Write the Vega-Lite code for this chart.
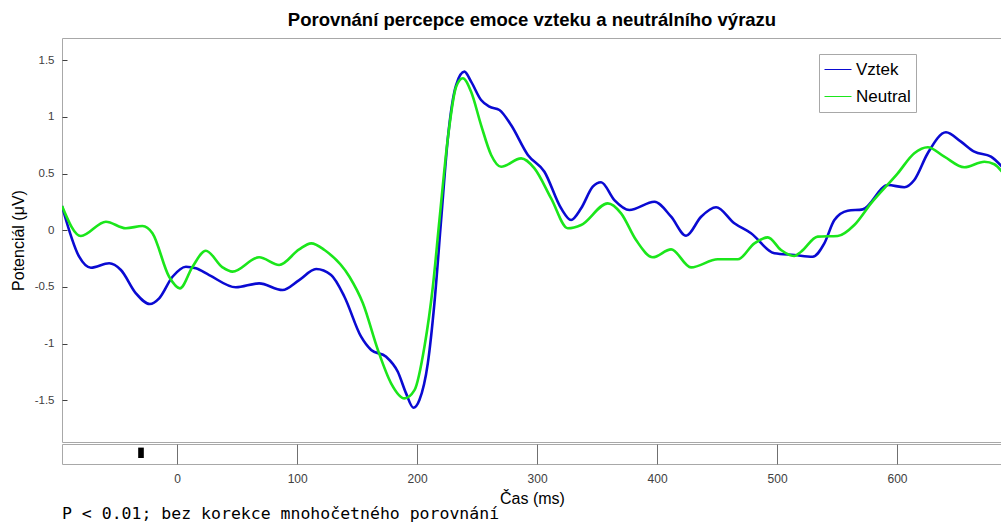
{
  "$schema": "https://vega.github.io/schema/vega-lite/v6.json",
  "background": "white",
  "padding": {"left": 9, "top": 10, "right": 0, "bottom": 0},
  "config": {
    "font": "Liberation Sans",
    "view": {"stroke": "#a8a8a8", "strokeWidth": 1},
    "concat": {"spacing": 0}
  },
  "vconcat": [
    {
      "width": 940,
      "height": 404,
      "title": {
        "text": "Porovnání percepce emoce vzteku a neutrálního výrazu",
        "font": "Liberation Sans",
        "fontSize": 18.5,
        "fontWeight": "bold",
        "color": "#000000",
        "anchor": "middle",
        "offset": 9
      },
      "data": {
        "values": [
          {"t": -96, "v": 0.214, "s": "Vztek"},
          {"t": -81.7, "v": -0.233, "s": "Vztek"},
          {"t": -71.9, "v": -0.33, "s": "Vztek"},
          {"t": -56.7, "v": -0.291, "s": "Vztek"},
          {"t": -46.9, "v": -0.35, "s": "Vztek"},
          {"t": -34.4, "v": -0.556, "s": "Vztek"},
          {"t": -22.8, "v": -0.65, "s": "Vztek"},
          {"t": -15, "v": -0.6, "s": "Vztek"},
          {"t": -3.9, "v": -0.41, "s": "Vztek"},
          {"t": 7.3, "v": -0.321, "s": "Vztek"},
          {"t": 15.6, "v": -0.335, "s": "Vztek"},
          {"t": 26.7, "v": -0.395, "s": "Vztek"},
          {"t": 48.9, "v": -0.503, "s": "Vztek"},
          {"t": 68.3, "v": -0.468, "s": "Vztek"},
          {"t": 87.8, "v": -0.527, "s": "Vztek"},
          {"t": 101.7, "v": -0.439, "s": "Vztek"},
          {"t": 115.8, "v": -0.342, "s": "Vztek"},
          {"t": 128.3, "v": -0.395, "s": "Vztek"},
          {"t": 139.4, "v": -0.586, "s": "Vztek"},
          {"t": 153.3, "v": -0.939, "s": "Vztek"},
          {"t": 161.7, "v": -1.056, "s": "Vztek"},
          {"t": 174.2, "v": -1.116, "s": "Vztek"},
          {"t": 183.9, "v": -1.248, "s": "Vztek"},
          {"t": 190.8, "v": -1.439, "s": "Vztek"},
          {"t": 196.9, "v": -1.566, "s": "Vztek"},
          {"t": 201.9, "v": -1.498, "s": "Vztek"},
          {"t": 208.9, "v": -1.174, "s": "Vztek"},
          {"t": 214.4, "v": -0.644, "s": "Vztek"},
          {"t": 220, "v": 0.091, "s": "Vztek"},
          {"t": 225.6, "v": 0.812, "s": "Vztek"},
          {"t": 232.5, "v": 1.282, "s": "Vztek"},
          {"t": 239.4, "v": 1.4, "s": "Vztek"},
          {"t": 245, "v": 1.312, "s": "Vztek"},
          {"t": 253.3, "v": 1.15, "s": "Vztek"},
          {"t": 260.3, "v": 1.091, "s": "Vztek"},
          {"t": 268.6, "v": 1.062, "s": "Vztek"},
          {"t": 278.3, "v": 0.929, "s": "Vztek"},
          {"t": 292.3, "v": 0.665, "s": "Vztek"},
          {"t": 306.1, "v": 0.517, "s": "Vztek"},
          {"t": 320, "v": 0.194, "s": "Vztek"},
          {"t": 328.3, "v": 0.091, "s": "Vztek"},
          {"t": 336.7, "v": 0.194, "s": "Vztek"},
          {"t": 346.4, "v": 0.385, "s": "Vztek"},
          {"t": 353.3, "v": 0.424, "s": "Vztek"},
          {"t": 364.4, "v": 0.267, "s": "Vztek"},
          {"t": 376.9, "v": 0.179, "s": "Vztek"},
          {"t": 397.8, "v": 0.252, "s": "Vztek"},
          {"t": 411.7, "v": 0.12, "s": "Vztek"},
          {"t": 424.2, "v": -0.048, "s": "Vztek"},
          {"t": 436.7, "v": 0.12, "s": "Vztek"},
          {"t": 449.2, "v": 0.203, "s": "Vztek"},
          {"t": 464.4, "v": 0.062, "s": "Vztek"},
          {"t": 478.3, "v": -0.026, "s": "Vztek"},
          {"t": 497.8, "v": -0.203, "s": "Vztek"},
          {"t": 514.4, "v": -0.218, "s": "Vztek"},
          {"t": 529.7, "v": -0.233, "s": "Vztek"},
          {"t": 539.4, "v": -0.115, "s": "Vztek"},
          {"t": 547.8, "v": 0.091, "s": "Vztek"},
          {"t": 558.9, "v": 0.173, "s": "Vztek"},
          {"t": 571.4, "v": 0.185, "s": "Vztek"},
          {"t": 592.3, "v": 0.4, "s": "Vztek"},
          {"t": 606.1, "v": 0.38, "s": "Vztek"},
          {"t": 614.4, "v": 0.444, "s": "Vztek"},
          {"t": 625.6, "v": 0.68, "s": "Vztek"},
          {"t": 640.8, "v": 0.865, "s": "Vztek"},
          {"t": 653.3, "v": 0.782, "s": "Vztek"},
          {"t": 664.4, "v": 0.694, "s": "Vztek"},
          {"t": 678.3, "v": 0.65, "s": "Vztek"},
          {"t": 687.5, "v": 0.561, "s": "Vztek"},
          {"t": -96, "v": 0.214, "s": "Neutral"},
          {"t": -80.3, "v": -0.05, "s": "Neutral"},
          {"t": -59.4, "v": 0.076, "s": "Neutral"},
          {"t": -42.8, "v": 0.018, "s": "Neutral"},
          {"t": -28.9, "v": 0.038, "s": "Neutral"},
          {"t": -20.6, "v": -0.026, "s": "Neutral"},
          {"t": -6.7, "v": -0.41, "s": "Neutral"},
          {"t": 2.3, "v": -0.512, "s": "Neutral"},
          {"t": 12.8, "v": -0.321, "s": "Neutral"},
          {"t": 23.9, "v": -0.18, "s": "Neutral"},
          {"t": 37.8, "v": -0.327, "s": "Neutral"},
          {"t": 46.1, "v": -0.365, "s": "Neutral"},
          {"t": 68.3, "v": -0.238, "s": "Neutral"},
          {"t": 85, "v": -0.306, "s": "Neutral"},
          {"t": 101.7, "v": -0.168, "s": "Neutral"},
          {"t": 111.7, "v": -0.115, "s": "Neutral"},
          {"t": 122.8, "v": -0.174, "s": "Neutral"},
          {"t": 143.6, "v": -0.41, "s": "Neutral"},
          {"t": 154.8, "v": -0.644, "s": "Neutral"},
          {"t": 167.3, "v": -1.056, "s": "Neutral"},
          {"t": 178.3, "v": -1.35, "s": "Neutral"},
          {"t": 189.4, "v": -1.483, "s": "Neutral"},
          {"t": 197.8, "v": -1.41, "s": "Neutral"},
          {"t": 206.1, "v": -1.027, "s": "Neutral"},
          {"t": 213.1, "v": -0.498, "s": "Neutral"},
          {"t": 218.6, "v": 0.091, "s": "Neutral"},
          {"t": 225.6, "v": 0.812, "s": "Neutral"},
          {"t": 232.5, "v": 1.267, "s": "Neutral"},
          {"t": 238.1, "v": 1.342, "s": "Neutral"},
          {"t": 245, "v": 1.223, "s": "Neutral"},
          {"t": 253.3, "v": 0.929, "s": "Neutral"},
          {"t": 261.7, "v": 0.665, "s": "Neutral"},
          {"t": 270, "v": 0.561, "s": "Neutral"},
          {"t": 286.7, "v": 0.635, "s": "Neutral"},
          {"t": 297.8, "v": 0.547, "s": "Neutral"},
          {"t": 311.7, "v": 0.282, "s": "Neutral"},
          {"t": 325.6, "v": 0.018, "s": "Neutral"},
          {"t": 336.7, "v": 0.047, "s": "Neutral"},
          {"t": 358.9, "v": 0.238, "s": "Neutral"},
          {"t": 370, "v": 0.15, "s": "Neutral"},
          {"t": 382.5, "v": -0.086, "s": "Neutral"},
          {"t": 396.4, "v": -0.238, "s": "Neutral"},
          {"t": 411.7, "v": -0.168, "s": "Neutral"},
          {"t": 428.3, "v": -0.327, "s": "Neutral"},
          {"t": 450.6, "v": -0.256, "s": "Neutral"},
          {"t": 467.3, "v": -0.256, "s": "Neutral"},
          {"t": 481.1, "v": -0.115, "s": "Neutral"},
          {"t": 492.3, "v": -0.062, "s": "Neutral"},
          {"t": 503.3, "v": -0.174, "s": "Neutral"},
          {"t": 514.4, "v": -0.227, "s": "Neutral"},
          {"t": 520, "v": -0.189, "s": "Neutral"},
          {"t": 533.9, "v": -0.056, "s": "Neutral"},
          {"t": 550.6, "v": -0.05, "s": "Neutral"},
          {"t": 564.4, "v": 0.047, "s": "Neutral"},
          {"t": 578.3, "v": 0.238, "s": "Neutral"},
          {"t": 600.6, "v": 0.503, "s": "Neutral"},
          {"t": 614.4, "v": 0.68, "s": "Neutral"},
          {"t": 625.6, "v": 0.733, "s": "Neutral"},
          {"t": 639.4, "v": 0.65, "s": "Neutral"},
          {"t": 656.1, "v": 0.556, "s": "Neutral"},
          {"t": 672.8, "v": 0.605, "s": "Neutral"},
          {"t": 681.1, "v": 0.583, "s": "Neutral"},
          {"t": 687.5, "v": 0.517, "s": "Neutral"}
        ]
      },
      "mark": {"type": "line", "interpolate": "monotone", "strokeWidth": 2.6, "clip": true},
      "encoding": {
        "x": {
          "field": "t",
          "type": "quantitative",
          "scale": {"domain": [-96, 687.5], "nice": false, "zero": false},
          "axis": null
        },
        "y": {
          "field": "v",
          "type": "quantitative",
          "scale": {"domain": [-1.868, 1.697], "nice": false, "zero": false},
          "axis": {
            "title": "Potenciál (μV)",
            "values": [-1.5, -1, -0.5, 0, 0.5, 1, 1.5],
            "labelExpr": "datum.value + ''",
            "grid": false,
            "domain": false,
            "tickSize": -5,
            "tickColor": "#404040",
            "labelPadding": 13,
            "labelFontSize": 11.5,
            "labelColor": "#404040",
            "titleFontSize": 16,
            "titleFontWeight": "normal",
            "titleColor": "#000000",
            "titlePadding": 8
          }
        },
        "color": {
          "field": "s",
          "type": "nominal",
          "scale": {"domain": ["Vztek", "Neutral"], "range": ["#0a0ad2", "#1be61b"]},
          "legend": {
            "orient": "none",
            "legendX": 757,
            "legendY": 16,
            "title": null,
            "symbolType": "stroke",
            "symbolSize": 729,
            "symbolStrokeWidth": 1,
            "clipHeight": 21,
            "labelFontSize": 17,
            "labelFont": "Liberation Sans",
            "labelColor": "#000000",
            "labelOffset": 4,
            "strokeColor": "#a8a8a8",
            "fillColor": "white",
            "padding": 5,
            "rowPadding": 6
          }
        }
      }
    },
    {
      "width": 940,
      "height": 20,
      "title": {
        "text": "P < 0.01; bez korekce mnohočetného porovnání",
        "orient": "bottom",
        "anchor": "start",
        "font": "DejaVu Sans Mono",
        "fontSize": 16.5,
        "fontWeight": "normal",
        "color": "#000000",
        "offset": 0
      },
      "data": {"values": [{"start": -32.5, "end": -27.8}]},
      "mark": {"type": "rect", "color": "#000000"},
      "encoding": {
        "x": {
          "field": "start",
          "type": "quantitative",
          "scale": {"domain": [-96, 687.5], "nice": false, "zero": false},
          "axis": {
            "title": "Čas (ms)",
            "values": [0, 100, 200, 300, 400, 500, 600],
            "grid": true,
            "gridColor": "#707070",
            "ticks": false,
            "domain": false,
            "labelFontSize": 12,
            "labelColor": "#404040",
            "labelPadding": 9,
            "titleFontSize": 16,
            "titleFontWeight": "normal",
            "titleColor": "#000000",
            "titlePadding": 6
          }
        },
        "x2": {"field": "end"},
        "y": {"datum": 0.3, "type": "quantitative", "scale": {"domain": [0, 1]}, "axis": null},
        "y2": {"datum": 0.82}
      }
    }
  ]
}
